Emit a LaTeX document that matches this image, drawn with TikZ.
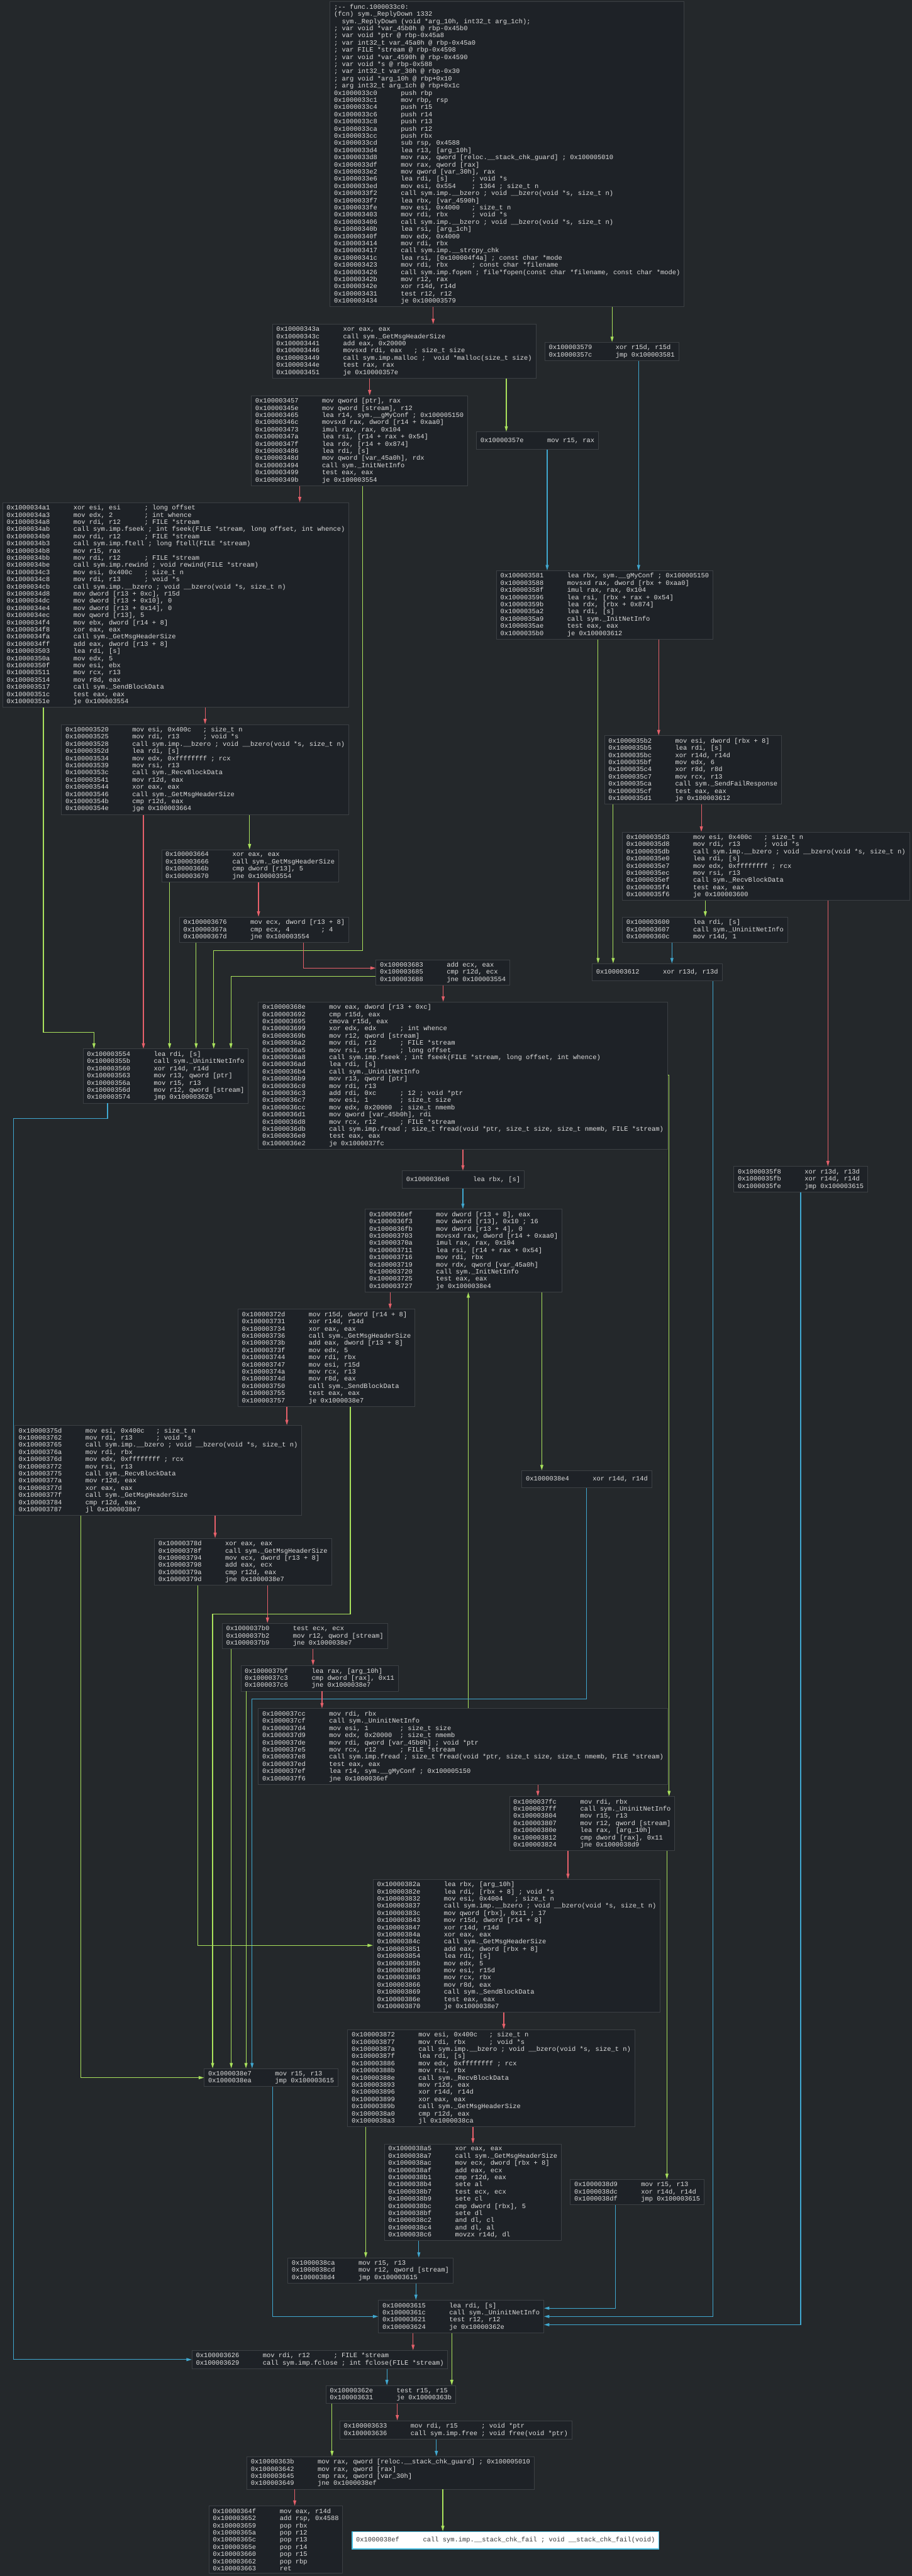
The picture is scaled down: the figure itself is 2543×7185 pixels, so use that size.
\documentclass[tikz,border=0pt]{standalone}
\usepackage{fontspec}
\usetikzlibrary{arrows.meta}
\newfontfamily\asmfamily[WordSpace={1,0,0}]{Liberation Mono}
\definecolor{bgcol}{RGB}{36,40,43}
\definecolor{blkfill}{RGB}{30,34,39}
\definecolor{blkline}{RGB}{60,64,68}
\definecolor{blktext}{RGB}{224,224,224}
\definecolor{edred}{RGB}{230,96,106}
\definecolor{edgreen}{RGB}{170,226,92}
\definecolor{edblue}{RGB}{64,168,208}
\definecolor{selline}{RGB}{70,190,225}
\newcommand{\aline}[2]{#1~~~~~~#2}
\tikzset{
  blk/.style={draw=blkline, fill=blkfill, text=blktext, line width=0.15mm,
    font=\asmfamily\fontsize{5.2}{5.69}\selectfont, align=left,
    anchor=north west, inner xsep=1.1mm, inner ysep=0.7mm, minimum height=4.8mm},
  selblk/.style={blk, fill=white, draw=selline, text=black!80, line width=0.25mm},
  cfgtip/.style={-{Triangle[length=1.5mm,width=0.85mm]}},
  redge/.style={draw=edred, line width=0.2mm, cfgtip},
  gedge/.style={draw=edgreen, line width=0.2mm, cfgtip},
  bedge/.style={draw=edblue, line width=0.2mm, cfgtip},
}
\begin{document}
\begin{tikzpicture}[x=0.1mm, y=-0.1mm]
\useasboundingbox (0,0) rectangle (2543,7185);
\fill[bgcol] (0,0) rectangle (2543,7185);

% entry block
\node[blk] (a) at (920,4) {;-- func.1000033c0:\\
(fcn) sym.\_ReplyDown 1332\\
~~sym.\_ReplyDown (void *arg\_10h, int32\_t arg\_1ch);\\
; var void *var\_45b0h @ rbp-0x45b0\\
; var void *ptr @ rbp-0x45a8\\
; var int32\_t var\_45a0h @ rbp-0x45a0\\
; var FILE *stream @ rbp-0x4598\\
; var void *var\_4590h @ rbp-0x4590\\
; var void *s @ rbp-0x588\\
; var int32\_t var\_30h @ rbp-0x30\\
; arg void *arg\_10h @ rbp+0x10\\
; arg int32\_t arg\_1ch @ rbp+0x1c\\
\aline{0x1000033c0}{push rbp}\\
\aline{0x1000033c1}{mov rbp, rsp}\\
\aline{0x1000033c4}{push r15}\\
\aline{0x1000033c6}{push r14}\\
\aline{0x1000033c8}{push r13}\\
\aline{0x1000033ca}{push r12}\\
\aline{0x1000033cc}{push rbx}\\
\aline{0x1000033cd}{sub rsp, 0x4588}\\
\aline{0x1000033d4}{lea r13, [arg\_10h]}\\
\aline{0x1000033d8}{mov rax, qword [reloc.\_\_stack\_chk\_guard] ; 0x100005010}\\
\aline{0x1000033df}{mov rax, qword [rax]}\\
\aline{0x1000033e2}{mov qword [var\_30h], rax}\\
\aline{0x1000033e6}{lea rdi, [s]~~~~~~; void *s}\\
\aline{0x1000033ed}{mov esi, 0x554~~~~; 1364 ; size\_t n}\\
\aline{0x1000033f2}{call sym.imp.\_\_bzero ; void \_\_bzero(void *s, size\_t n)}\\
\aline{0x1000033f7}{lea rbx, [var\_4590h]}\\
\aline{0x1000033fe}{mov esi, 0x4000~~~; size\_t n}\\
\aline{0x100003403}{mov rdi, rbx~~~~~~; void *s}\\
\aline{0x100003406}{call sym.imp.\_\_bzero ; void \_\_bzero(void *s, size\_t n)}\\
\aline{0x10000340b}{lea rsi, [arg\_1ch]}\\
\aline{0x10000340f}{mov edx, 0x4000}\\
\aline{0x100003414}{mov rdi, rbx}\\
\aline{0x100003417}{call sym.imp.\_\_strcpy\_chk}\\
\aline{0x10000341c}{lea rsi, [0x100004f4a] ; const char *mode}\\
\aline{0x100003423}{mov rdi, rbx~~~~~~; const char *filename}\\
\aline{0x100003426}{call sym.imp.fopen ; file*fopen(const char *filename, const char *mode)}\\
\aline{0x10000342b}{mov r12, rax}\\
\aline{0x10000342e}{xor r14d, r14d}\\
\aline{0x100003431}{test r12, r12}\\
\aline{0x100003434}{je 0x100003579}};

\node[blk] (b) at (759,904) {\aline{0x10000343a}{xor eax, eax}\\
\aline{0x10000343c}{call sym.\_GetMsgHeaderSize}\\
\aline{0x100003441}{add eax, 0x20000}\\
\aline{0x100003446}{movsxd rdi, eax~~~; size\_t size}\\
\aline{0x100003449}{call sym.imp.malloc ;~~void *malloc(size\_t size)}\\
\aline{0x10000344e}{test rax, rax}\\
\aline{0x100003451}{je 0x10000357e}};

\node[blk] (d) at (1519,954) {\aline{0x100003579}{xor r15d, r15d}\\
\aline{0x10000357c}{jmp 0x100003581}};

\node[blk] (c) at (1328,1204) {\aline{0x10000357e}{mov r15, rax}};

\node[blk] (e) at (700,1103) {\aline{0x100003457}{mov qword [ptr], rax}\\
\aline{0x10000345e}{mov qword [stream], r12}\\
\aline{0x100003465}{lea r14, sym.\_\_gMyConf ; 0x100005150}\\
\aline{0x10000346c}{movsxd rax, dword [r14 + 0xaa0]}\\
\aline{0x100003473}{imul rax, rax, 0x104}\\
\aline{0x10000347a}{lea rsi, [r14 + rax + 0x54]}\\
\aline{0x10000347f}{lea rdx, [r14 + 0x874]}\\
\aline{0x100003486}{lea rdi, [s]}\\
\aline{0x10000348d}{mov qword [var\_45a0h], rdx}\\
\aline{0x100003494}{call sym.\_InitNetInfo}\\
\aline{0x100003499}{test eax, eax}\\
\aline{0x10000349b}{je 0x100003554}};

\node[blk] (f) at (7,1401) {\aline{0x1000034a1}{xor esi, esi~~~~~~; long offset}\\
\aline{0x1000034a3}{mov edx, 2~~~~~~~~; int whence}\\
\aline{0x1000034a8}{mov rdi, r12~~~~~~; FILE *stream}\\
\aline{0x1000034ab}{call sym.imp.fseek ; int fseek(FILE *stream, long offset, int whence)}\\
\aline{0x1000034b0}{mov rdi, r12~~~~~~; FILE *stream}\\
\aline{0x1000034b3}{call sym.imp.ftell ; long ftell(FILE *stream)}\\
\aline{0x1000034b8}{mov r15, rax}\\
\aline{0x1000034bb}{mov rdi, r12~~~~~~; FILE *stream}\\
\aline{0x1000034be}{call sym.imp.rewind ; void rewind(FILE *stream)}\\
\aline{0x1000034c3}{mov esi, 0x400c~~~; size\_t n}\\
\aline{0x1000034c8}{mov rdi, r13~~~~~~; void *s}\\
\aline{0x1000034cb}{call sym.imp.\_\_bzero ; void \_\_bzero(void *s, size\_t n)}\\
\aline{0x1000034d8}{mov dword [r13 + 0xc], r15d}\\
\aline{0x1000034dc}{mov dword [r13 + 0x10], 0}\\
\aline{0x1000034e4}{mov dword [r13 + 0x14], 0}\\
\aline{0x1000034ec}{mov qword [r13], 5}\\
\aline{0x1000034f4}{mov ebx, dword [r14 + 8]}\\
\aline{0x1000034f8}{xor eax, eax}\\
\aline{0x1000034fa}{call sym.\_GetMsgHeaderSize}\\
\aline{0x1000034ff}{add eax, dword [r13 + 8]}\\
\aline{0x100003503}{lea rdi, [s]}\\
\aline{0x10000350a}{mov edx, 5}\\
\aline{0x10000350f}{mov esi, ebx}\\
\aline{0x100003511}{mov rcx, r13}\\
\aline{0x100003514}{mov r8d, eax}\\
\aline{0x100003517}{call sym.\_SendBlockData}\\
\aline{0x10000351c}{test eax, eax}\\
\aline{0x10000351e}{je 0x100003554}};

\node[blk] (g) at (1384,1591) {\aline{0x100003581}{lea rbx, sym.\_\_gMyConf ; 0x100005150}\\
\aline{0x100003588}{movsxd rax, dword [rbx + 0xaa0]}\\
\aline{0x10000358f}{imul rax, rax, 0x104}\\
\aline{0x100003596}{lea rsi, [rbx + rax + 0x54]}\\
\aline{0x10000359b}{lea rdx, [rbx + 0x874]}\\
\aline{0x1000035a2}{lea rdi, [s]}\\
\aline{0x1000035a9}{call sym.\_InitNetInfo}\\
\aline{0x1000035ae}{test eax, eax}\\
\aline{0x1000035b0}{je 0x100003612}};

\node[blk] (k) at (171,2020) {\aline{0x100003520}{mov esi, 0x400c~~~; size\_t n}\\
\aline{0x100003525}{mov rdi, r13~~~~~~; void *s}\\
\aline{0x100003528}{call sym.imp.\_\_bzero ; void \_\_bzero(void *s, size\_t n)}\\
\aline{0x10000352d}{lea rdi, [s]}\\
\aline{0x100003534}{mov edx, 0xffffffff ; rcx}\\
\aline{0x100003539}{mov rsi, r13}\\
\aline{0x10000353c}{call sym.\_RecvBlockData}\\
\aline{0x100003541}{mov r12d, eax}\\
\aline{0x100003544}{xor eax, eax}\\
\aline{0x100003546}{call sym.\_GetMsgHeaderSize}\\
\aline{0x10000354b}{cmp r12d, eax}\\
\aline{0x10000354e}{jge 0x100003664}};

\node[blk] (h) at (1685,2051) {\aline{0x1000035b2}{mov esi, dword [rbx + 8]}\\
\aline{0x1000035b5}{lea rdi, [s]}\\
\aline{0x1000035bc}{xor r14d, r14d}\\
\aline{0x1000035bf}{mov edx, 6}\\
\aline{0x1000035c4}{xor r8d, r8d}\\
\aline{0x1000035c7}{mov rcx, r13}\\
\aline{0x1000035ca}{call sym.\_SendFailResponse}\\
\aline{0x1000035cf}{test eax, eax}\\
\aline{0x1000035d1}{je 0x100003612}};

\node[blk] (i) at (1735,2320) {\aline{0x1000035d3}{mov esi, 0x400c~~~; size\_t n}\\
\aline{0x1000035d8}{mov rdi, r13~~~~~~; void *s}\\
\aline{0x1000035db}{call sym.imp.\_\_bzero ; void \_\_bzero(void *s, size\_t n)}\\
\aline{0x1000035e0}{lea rdi, [s]}\\
\aline{0x1000035e7}{mov edx, 0xffffffff ; rcx}\\
\aline{0x1000035ec}{mov rsi, r13}\\
\aline{0x1000035ef}{call sym.\_RecvBlockData}\\
\aline{0x1000035f4}{test eax, eax}\\
\aline{0x1000035f6}{je 0x100003600}};

\node[blk] (l) at (450,2369) {\aline{0x100003664}{xor eax, eax}\\
\aline{0x100003666}{call sym.\_GetMsgHeaderSize}\\
\aline{0x10000366b}{cmp dword [r13], 5}\\
\aline{0x100003670}{jne 0x100003554}};

\node[blk] (j) at (1735,2557) {\aline{0x100003600}{lea rdi, [s]}\\
\aline{0x100003607}{call sym.\_UninitNetInfo}\\
\aline{0x10000360c}{mov r14d, 1}};

\node[blk] (m) at (500,2557) {\aline{0x100003676}{mov ecx, dword [r13 + 8]}\\
\aline{0x10000367a}{cmp ecx, 4~~~~~~~~; 4}\\
\aline{0x10000367d}{jne 0x100003554}};

\node[blk] (n) at (1048,2676) {\aline{0x100003683}{add ecx, eax}\\
\aline{0x100003685}{cmp r12d, ecx}\\
\aline{0x100003688}{jne 0x100003554}};

\node[blk] (o) at (1651,2687) {\aline{0x100003612}{xor r13d, r13d}};

\node[blk] (q) at (720,2794) {\aline{0x10000368e}{mov eax, dword [r13 + 0xc]}\\
\aline{0x100003692}{cmp r15d, eax}\\
\aline{0x100003695}{cmova r15d, eax}\\
\aline{0x100003699}{xor edx, edx~~~~~~; int whence}\\
\aline{0x10000369b}{mov r12, qword [stream]}\\
\aline{0x1000036a2}{mov rdi, r12~~~~~~; FILE *stream}\\
\aline{0x1000036a5}{mov rsi, r15~~~~~~; long offset}\\
\aline{0x1000036a8}{call sym.imp.fseek ; int fseek(FILE *stream, long offset, int whence)}\\
\aline{0x1000036ad}{lea rdi, [s]}\\
\aline{0x1000036b4}{call sym.\_UninitNetInfo}\\
\aline{0x1000036b9}{mov r13, qword [ptr]}\\
\aline{0x1000036c0}{mov rdi, r13}\\
\aline{0x1000036c3}{add rdi, 0xc~~~~~~; 12 ; void *ptr}\\
\aline{0x1000036c7}{mov esi, 1~~~~~~~~; size\_t size}\\
\aline{0x1000036cc}{mov edx, 0x20000~~; size\_t nmemb}\\
\aline{0x1000036d1}{mov qword [var\_45b0h], rdi}\\
\aline{0x1000036d8}{mov rcx, r12~~~~~~; FILE *stream}\\
\aline{0x1000036db}{call sym.imp.fread ; size\_t fread(void *ptr, size\_t size, size\_t nmemb, FILE *stream)}\\
\aline{0x1000036e0}{test eax, eax}\\
\aline{0x1000036e2}{je 0x1000037fc}};

\node[blk] (p) at (231,2925) {\aline{0x100003554}{lea rdi, [s]}\\
\aline{0x10000355b}{call sym.\_UninitNetInfo}\\
\aline{0x100003560}{xor r14d, r14d}\\
\aline{0x100003563}{mov r13, qword [ptr]}\\
\aline{0x10000356a}{mov r15, r13}\\
\aline{0x10000356d}{mov r12, qword [stream]}\\
\aline{0x100003574}{jmp 0x100003626}};

\node[blk] (k2) at (2046,3253) {\aline{0x1000035f8}{xor r13d, r13d}\\
\aline{0x1000035fb}{xor r14d, r14d}\\
\aline{0x1000035fe}{jmp 0x100003615}};

\node[blk] (s) at (1121,3265) {\aline{0x1000036e8}{lea rbx, [s]}};

\node[blk] (t) at (1018,3372) {\aline{0x1000036ef}{mov dword [r13 + 8], eax}\\
\aline{0x1000036f3}{mov dword [r13], 0x10 ; 16}\\
\aline{0x1000036fb}{mov dword [r13 + 4], 0}\\
\aline{0x100003703}{movsxd rax, dword [r14 + 0xaa0]}\\
\aline{0x10000370a}{imul rax, rax, 0x104}\\
\aline{0x100003711}{lea rsi, [r14 + rax + 0x54]}\\
\aline{0x100003716}{mov rdi, rbx}\\
\aline{0x100003719}{mov rdx, qword [var\_45a0h]}\\
\aline{0x100003720}{call sym.\_InitNetInfo}\\
\aline{0x100003725}{test eax, eax}\\
\aline{0x100003727}{je 0x1000038e4}};

\node[blk] (v) at (663,3651) {\aline{0x10000372d}{mov r15d, dword [r14 + 8]}\\
\aline{0x100003731}{xor r14d, r14d}\\
\aline{0x100003734}{xor eax, eax}\\
\aline{0x100003736}{call sym.\_GetMsgHeaderSize}\\
\aline{0x10000373b}{add eax, dword [r13 + 8]}\\
\aline{0x10000373f}{mov edx, 5}\\
\aline{0x100003744}{mov rdi, rbx}\\
\aline{0x100003747}{mov esi, r15d}\\
\aline{0x10000374a}{mov rcx, r13}\\
\aline{0x10000374d}{mov r8d, eax}\\
\aline{0x100003750}{call sym.\_SendBlockData}\\
\aline{0x100003755}{test eax, eax}\\
\aline{0x100003757}{je 0x1000038e7}};

\node[blk] (v2) at (40,3975) {\aline{0x10000375d}{mov esi, 0x400c~~~; size\_t n}\\
\aline{0x100003762}{mov rdi, r13~~~~~~; void *s}\\
\aline{0x100003765}{call sym.imp.\_\_bzero ; void \_\_bzero(void *s, size\_t n)}\\
\aline{0x10000376a}{mov rdi, rbx}\\
\aline{0x10000376d}{mov edx, 0xffffffff ; rcx}\\
\aline{0x100003772}{mov rsi, r13}\\
\aline{0x100003775}{call sym.\_RecvBlockData}\\
\aline{0x10000377a}{mov r12d, eax}\\
\aline{0x10000377d}{xor eax, eax}\\
\aline{0x10000377f}{call sym.\_GetMsgHeaderSize}\\
\aline{0x100003784}{cmp r12d, eax}\\
\aline{0x100003787}{jl 0x1000038e7}};

\node[blk] (u) at (1455,4101) {\aline{0x1000038e4}{xor r14d, r14d}};

\node[blk] (v3) at (430,4290) {\aline{0x10000378d}{xor eax, eax}\\
\aline{0x10000378f}{call sym.\_GetMsgHeaderSize}\\
\aline{0x100003794}{mov ecx, dword [r13 + 8]}\\
\aline{0x100003798}{add eax, ecx}\\
\aline{0x10000379a}{cmp r12d, eax}\\
\aline{0x10000379d}{jne 0x1000038e7}};

\node[blk] (b7b0) at (619,4527) {\aline{0x1000037b0}{test ecx, ecx}\\
\aline{0x1000037b2}{mov r12, qword [stream]}\\
\aline{0x1000037b9}{jne 0x1000038e7}};

\node[blk] (b7bf) at (671,4645) {\aline{0x1000037bf}{lea rax, [arg\_10h]}\\
\aline{0x1000037c3}{cmp dword [rax], 0x11}\\
\aline{0x1000037c6}{jne 0x1000038e7}};

\node[blk] (b7cc) at (720,4765) {\aline{0x1000037cc}{mov rdi, rbx}\\
\aline{0x1000037cf}{call sym.\_UninitNetInfo}\\
\aline{0x1000037d4}{mov esi, 1~~~~~~~~; size\_t size}\\
\aline{0x1000037d9}{mov edx, 0x20000~~; size\_t nmemb}\\
\aline{0x1000037de}{mov rdi, qword [var\_45b0h] ; void *ptr}\\
\aline{0x1000037e5}{mov rcx, r12~~~~~~; FILE *stream}\\
\aline{0x1000037e8}{call sym.imp.fread ; size\_t fread(void *ptr, size\_t size, size\_t nmemb, FILE *stream)}\\
\aline{0x1000037ed}{test eax, eax}\\
\aline{0x1000037ef}{lea r14, sym.\_\_gMyConf ; 0x100005150}\\
\aline{0x1000037f6}{jne 0x1000036ef}};

\node[blk] (b7fc) at (1420,5010) {\aline{0x1000037fc}{mov rdi, rbx}\\
\aline{0x1000037ff}{call sym.\_UninitNetInfo}\\
\aline{0x100003804}{mov r15, r13}\\
\aline{0x100003807}{mov r12, qword [stream]}\\
\aline{0x10000380e}{lea rax, [arg\_10h]}\\
\aline{0x100003812}{cmp dword [rax], 0x11}\\
\aline{0x100003824}{jne 0x1000038d9}};

\node[blk] (x1) at (1040,5241) {\aline{0x10000382a}{lea rbx, [arg\_10h]}\\
\aline{0x10000382e}{lea rdi, [rbx + 8] ; void *s}\\
\aline{0x100003832}{mov esi, 0x4004~~~; size\_t n}\\
\aline{0x100003837}{call sym.imp.\_\_bzero ; void \_\_bzero(void *s, size\_t n)}\\
\aline{0x10000383c}{mov qword [rbx], 0x11 ; 17}\\
\aline{0x100003843}{mov r15d, dword [r14 + 8]}\\
\aline{0x100003847}{xor r14d, r14d}\\
\aline{0x10000384a}{xor eax, eax}\\
\aline{0x10000384c}{call sym.\_GetMsgHeaderSize}\\
\aline{0x100003851}{add eax, dword [rbx + 8]}\\
\aline{0x100003854}{lea rdi, [s]}\\
\aline{0x10000385b}{mov edx, 5}\\
\aline{0x100003860}{mov esi, r15d}\\
\aline{0x100003863}{mov rcx, rbx}\\
\aline{0x100003866}{mov r8d, eax}\\
\aline{0x100003869}{call sym.\_SendBlockData}\\
\aline{0x10000386e}{test eax, eax}\\
\aline{0x100003870}{je 0x1000038e7}};

\node[blk] (x2) at (969,5660) {\aline{0x100003872}{mov esi, 0x400c~~~; size\_t n}\\
\aline{0x100003877}{mov rdi, rbx~~~~~~; void *s}\\
\aline{0x10000387a}{call sym.imp.\_\_bzero ; void \_\_bzero(void *s, size\_t n)}\\
\aline{0x10000387f}{lea rdi, [s]}\\
\aline{0x100003886}{mov edx, 0xffffffff ; rcx}\\
\aline{0x10000388b}{mov rsi, rbx}\\
\aline{0x10000388e}{call sym.\_RecvBlockData}\\
\aline{0x100003893}{mov r12d, eax}\\
\aline{0x100003896}{xor r14d, r14d}\\
\aline{0x100003899}{xor eax, eax}\\
\aline{0x10000389b}{call sym.\_GetMsgHeaderSize}\\
\aline{0x1000038a0}{cmp r12d, eax}\\
\aline{0x1000038a3}{jl 0x1000038ca}};

\node[blk] (e7) at (569,5769) {\aline{0x1000038e7}{mov r15, r13}\\
\aline{0x1000038ea}{jmp 0x100003615}};

\node[blk] (x3) at (1071,5979) {\aline{0x1000038a5}{xor eax, eax}\\
\aline{0x1000038a7}{call sym.\_GetMsgHeaderSize}\\
\aline{0x1000038ac}{mov ecx, dword [rbx + 8]}\\
\aline{0x1000038af}{add eax, ecx}\\
\aline{0x1000038b1}{cmp r12d, eax}\\
\aline{0x1000038b4}{sete al}\\
\aline{0x1000038b7}{test ecx, ecx}\\
\aline{0x1000038b9}{sete cl}\\
\aline{0x1000038bc}{cmp dword [rbx], 5}\\
\aline{0x1000038bf}{sete dl}\\
\aline{0x1000038c2}{and dl, cl}\\
\aline{0x1000038c4}{and dl, al}\\
\aline{0x1000038c6}{movzx r14d, dl}};

\node[blk] (d2) at (1590,6078) {\aline{0x1000038d9}{mov r15, r13}\\
\aline{0x1000038dc}{xor r14d, r14d}\\
\aline{0x1000038df}{jmp 0x100003615}};

\node[blk] (w2) at (802,6297) {\aline{0x1000038ca}{mov r15, r13}\\
\aline{0x1000038cd}{mov r12, qword [stream]}\\
\aline{0x1000038d4}{jmp 0x100003615}};

\node[blk] (z) at (1055,6415) {\aline{0x100003615}{lea rdi, [s]}\\
\aline{0x10000361c}{call sym.\_UninitNetInfo}\\
\aline{0x100003621}{test r12, r12}\\
\aline{0x100003624}{je 0x10000362e}};

\node[blk] (z2) at (535,6555) {\aline{0x100003626}{mov rdi, r12~~~~~~; FILE *stream}\\
\aline{0x100003629}{call sym.imp.fclose ; int fclose(FILE *stream)}};

\node[blk] (z3) at (908,6653) {\aline{0x10000362e}{test r15, r15}\\
\aline{0x100003631}{je 0x10000363b}};

\node[blk] (z4) at (947,6751) {\aline{0x100003633}{mov rdi, r15~~~~~~; void *ptr}\\
\aline{0x100003636}{call sym.imp.free ; void free(void *ptr)}};

\node[blk] (z5) at (688,6851) {\aline{0x10000363b}{mov rax, qword [reloc.\_\_stack\_chk\_guard] ; 0x100005010}\\
\aline{0x100003642}{mov rax, qword [rax]}\\
\aline{0x100003645}{cmp rax, qword [var\_30h]}\\
\aline{0x100003649}{jne 0x1000038ef}};

\node[blk] (z6) at (582,6989) {\aline{0x10000364f}{mov eax, r14d}\\
\aline{0x100003652}{add rsp, 0x4588}\\
\aline{0x100003659}{pop rbx}\\
\aline{0x10000365a}{pop r12}\\
\aline{0x10000365c}{pop r13}\\
\aline{0x10000365e}{pop r14}\\
\aline{0x100003660}{pop r15}\\
\aline{0x100003662}{pop rbp}\\
\aline{0x100003663}{ret}};

\node[selblk] (z7) at (981,7060) {\aline{0x1000038ef}{call sym.imp.\_\_stack\_chk\_fail ; void \_\_stack\_chk\_fail(void)}};

% connectors
\draw[redge] (1208,0 |- a.south) -- (1208,0 |- b.north);
\draw[gedge] (1707,0 |- a.south) -- (1707,0 |- d.north);
\draw[redge] (1031,0 |- b.south) -- (1031,0 |- e.north);
\draw[gedge] (1412,0 |- b.south) -- (1412,0 |- c.north);
\draw[bedge] (1781,0 |- d.south) -- (1781,0 |- g.north);
\draw[bedge] (1526,0 |- c.south) -- (1526,0 |- g.north);
\draw[redge] (836,0 |- e.south) -- (836,0 |- f.north);
\draw[gedge] (1011,0 |- e.south) -- (1011,2651) -- (596,2651) -- (596,0 |- p.north);
\draw[redge] (572,0 |- f.south) -- (572,0 |- k.north);
\draw[gedge] (121,0 |- f.south) -- (121,2880) -- (262,2880) -- (262,0 |- p.north);
\draw[gedge] (1668,0 |- g.south) -- (1668,0 |- o.north);
\draw[redge] (1837,0 |- g.south) -- (1837,0 |- h.north);
\draw[gedge] (1710,0 |- h.south) -- (1710,0 |- o.north);
\draw[redge] (1956,0 |- h.south) -- (1956,0 |- i.north);
\draw[gedge] (1967,0 |- i.south) -- (1967,0 |- j.north);
\draw[redge] (2309,0 |- i.south) -- (2309,0 |- k2.north);
\draw[bedge] (1874,0 |- j.south) -- (1874,0 |- o.north);
\draw[bedge] (1989,0 |- o.south) -- (1989,6461) -- (z.east |- 0,6461);
\draw[bedge] (2233,0 |- k2.south) -- (2233,6484) -- (z.east |- 0,6484);
\draw[gedge] (696,0 |- k.south) -- (696,0 |- l.north);
\draw[redge] (400,0 |- k.south) -- (400,0 |- p.north);
\draw[gedge] (473,0 |- l.south) -- (473,0 |- p.north);
\draw[redge] (721,0 |- l.south) -- (721,0 |- m.north);
\draw[gedge] (547,0 |- m.south) -- (547,0 |- p.north);
\draw[redge] (846,0 |- m.south) -- (846,2700) -- (n.west |- 0,2700);
\draw[gedge] (n.west |- 0,2724) -- (644,2724) -- (644,0 |- p.north);
\draw[redge] (1236,0 |- n.south) -- (1236,0 |- q.north);
\draw[redge] (1291,0 |- q.south) -- (1291,0 |- s.north);
\draw[gedge] (q.east |- 0,2999) -- (1866,2999) -- (1866,0 |- b7fc.north);
\draw[bedge] (1291,0 |- s.south) -- (1291,0 |- t.north);
\draw[redge] (1088,0 |- t.south) -- (1088,0 |- v.north);
\draw[gedge] (1511,0 |- t.south) -- (1511,0 |- u.north);
\draw[gedge] (1306,0 |- b7cc.north) -- (1306,0 |- t.south);
\draw[bedge] (1636,0 |- u.south) -- (1636,4739) -- (703,4739) -- (703,0 |- e7.north);
\draw[gedge] (977,0 |- v.south) -- (977,4502) -- (593,4502) -- (593,0 |- e7.north);
\draw[redge] (800,0 |- v.south) -- (800,0 |- v2.north);
\draw[redge] (600,0 |- v2.south) -- (600,0 |- v3.north);
\draw[gedge] (226,0 |- v2.south) -- (226,5795) -- (e7.west |- 0,5795);
\draw[redge] (746,0 |- v3.south) -- (746,0 |- b7b0.north);
\draw[gedge] (552,0 |- v3.south) -- (552,5426) -- (x1.west |- 0,5426);
\draw[gedge] (645,0 |- b7b0.south) -- (645,0 |- e7.north);
\draw[redge] (873,0 |- b7b0.south) -- (873,0 |- b7bf.north);
\draw[gedge] (686,0 |- b7bf.south) -- (686,0 |- e7.north);
\draw[redge] (898,0 |- b7bf.south) -- (898,0 |- b7cc.north);
\draw[redge] (1500,0 |- b7cc.south) -- (1500,0 |- b7fc.north);
\draw[redge] (1584,0 |- b7fc.south) -- (1584,0 |- x1.north);
\draw[gedge] (1860,0 |- b7fc.south) -- (1860,0 |- d2.north);
\draw[redge] (1405,0 |- x1.south) -- (1405,0 |- x2.north);
\draw[gedge] (1020,0 |- x2.south) -- (1020,0 |- w2.north);
\draw[redge] (1319,0 |- x2.south) -- (1319,0 |- x3.north);
\draw[bedge] (1168,0 |- x3.south) -- (1168,0 |- w2.north);
\draw[bedge] (1160,0 |- w2.south) -- (1160,0 |- z.north);
\draw[bedge] (1717,0 |- d2.south) -- (1717,6438) -- (z.east |- 0,6438);
\draw[bedge] (760,0 |- e7.south) -- (760,6461) -- (z.west |- 0,6461);
\draw[bedge] (300,0 |- p.south) -- (300,3120) -- (38,3120) -- (38,0 |- z2.west) -- (z2.west);
\draw[redge] (1152,0 |- z.south) -- (1152,0 |- z2.north);
\draw[gedge] (1260,0 |- z.south) -- (1260,0 |- z3.north);
\draw[bedge] (1079,0 |- z2.south) -- (1079,0 |- z3.north);
\draw[gedge] (926,0 |- z3.south) -- (926,0 |- z5.north);
\draw[redge] (1108,0 |- z3.south) -- (1108,0 |- z4.north);
\draw[bedge] (1217,0 |- z4.south) -- (1217,0 |- z5.north);
\draw[redge] (822,0 |- z5.south) -- (822,0 |- z6.north);
\draw[gedge] (1235,0 |- z5.south) -- (1235,0 |- z7.north);
\end{tikzpicture}
\end{document}
